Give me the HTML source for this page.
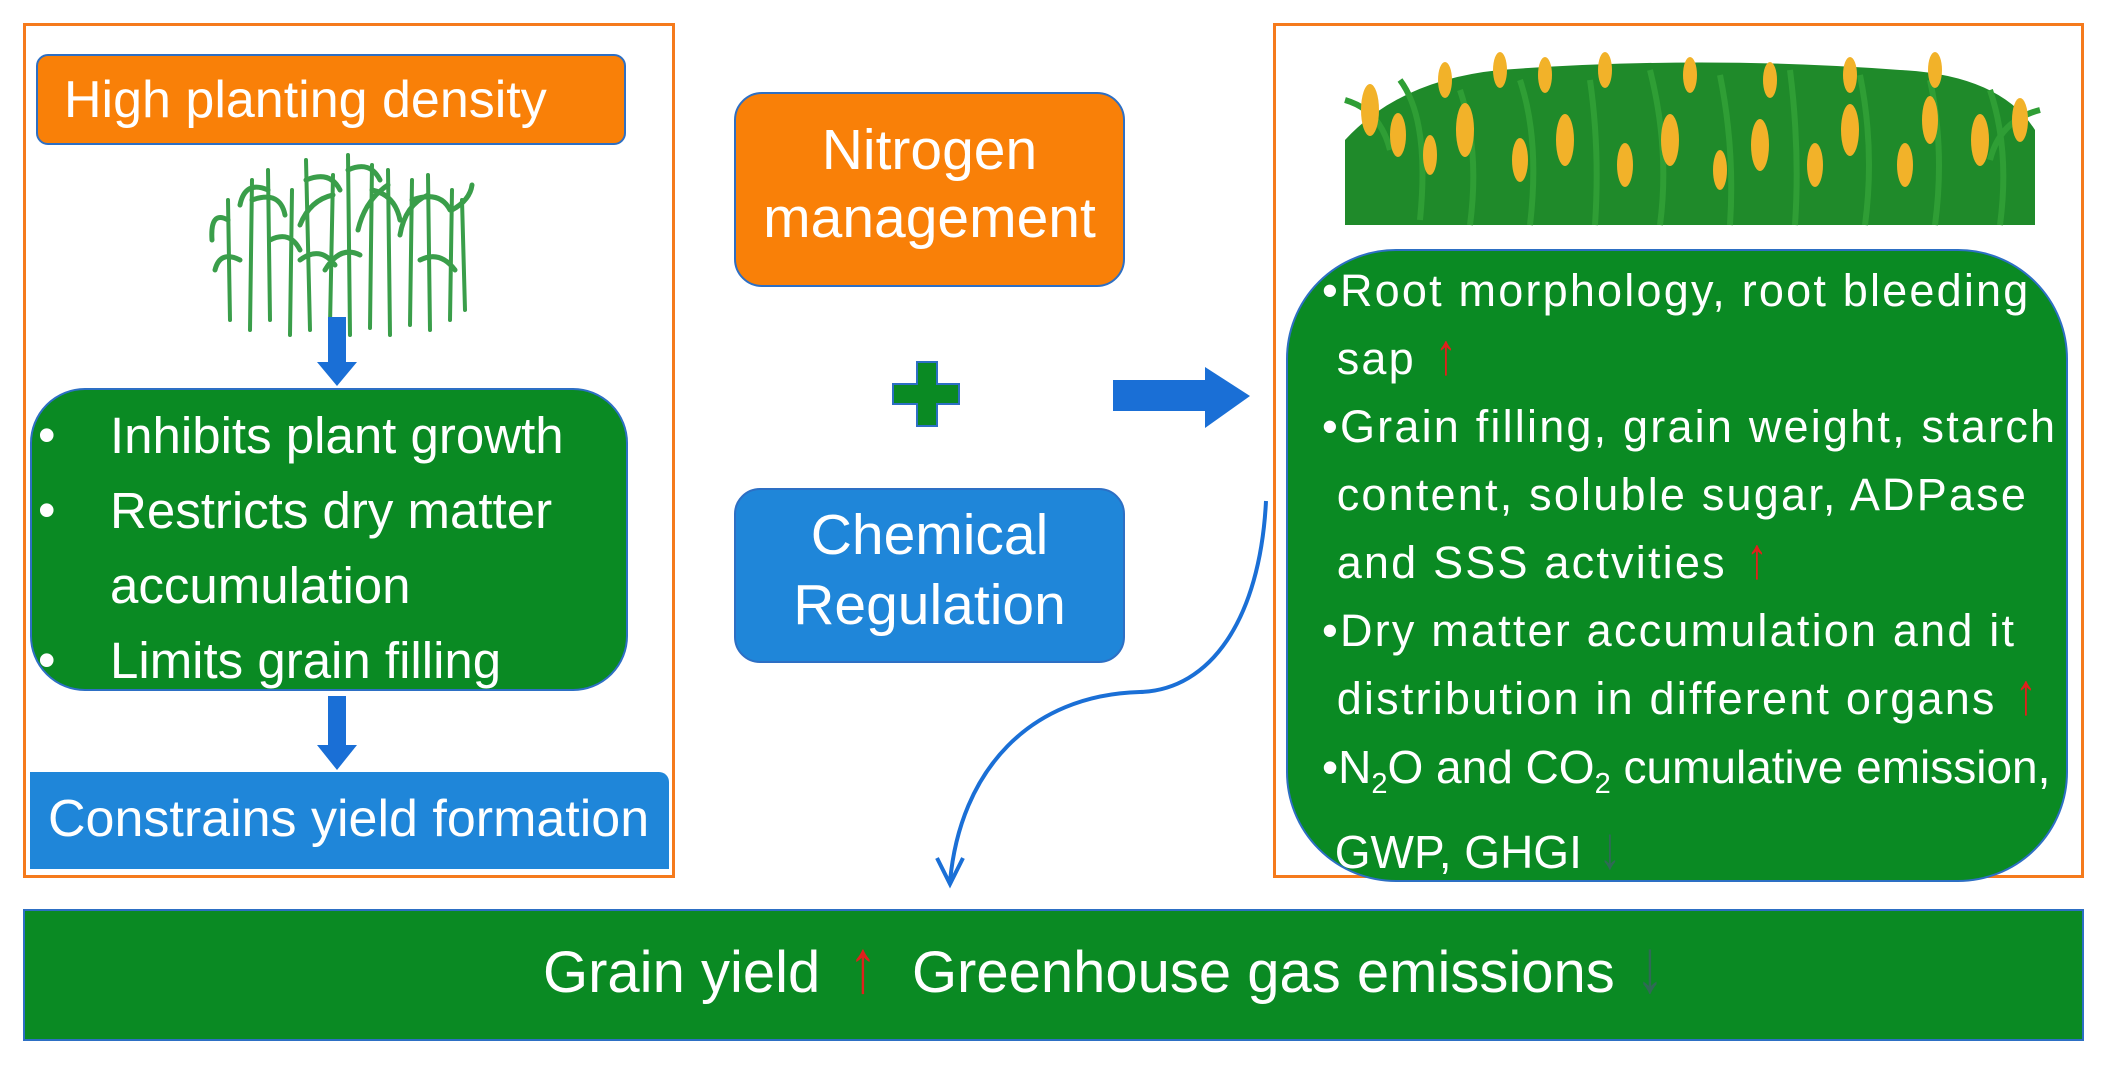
<!DOCTYPE html>
<html><head><meta charset="utf-8"><style>
html,body{margin:0;padding:0;background:#fff}
body{width:2112px;height:1074px;position:relative;overflow:hidden;font-family:"Liberation Sans",sans-serif;color:#fff}
.a{position:absolute;box-sizing:border-box}
.or{border:3px solid #f57a1c}
.t{position:absolute;white-space:nowrap}
.ar{font-size:1.3em;line-height:0.5;display:inline-block;transform:scaleX(0.75)}
</style></head><body>
<div class="a or" style="left:23px;top:23px;width:652px;height:855px"></div>
<div class="a or" style="left:1273px;top:23px;width:811px;height:855px"></div>

<div class="a" style="left:36px;top:54px;width:590px;height:91px;background:#f98008;border:2px solid #2d6fc4;border-radius:12px"></div>
<div class="t" style="left:64px;top:70px;font-size:52px">High planting density</div>

<svg class="a" style="left:0;top:0" width="2112" height="1074">
<g stroke="#3a9e4a" stroke-width="4" fill="none" stroke-linecap="round">
<path d="M230 320 L228 200 M250 330 L252 180 M270 320 L268 170 M290 335 L292 190 M310 330 L306 160 M330 325 L333 175 M350 335 L348 155 M370 328 L372 165 M390 335 L388 170 M410 325 L412 180 M430 330 L428 175 M450 320 L452 190 M465 310 L462 200"/>
<path d="M228 220 Q210 210 212 240 M252 200 Q280 190 285 215 M268 190 Q245 180 240 205 M306 180 Q330 170 340 190 M333 195 Q310 200 300 225 M348 170 Q370 160 380 180 M372 190 Q395 195 400 220 M388 185 Q365 200 358 230 M412 200 Q440 190 450 210 M428 195 Q405 205 400 235 M452 210 Q470 200 472 185 M240 260 Q220 250 215 270 M300 260 Q320 245 335 265 M360 255 Q340 245 325 270 M420 260 Q440 250 455 270 M270 240 Q290 230 300 250" stroke-width="5"/>
</g>
<g fill="#1a6fd6">
<rect x="328" y="317" width="18" height="50"/><polygon points="317,362 357,362 337,386"/>
<rect x="328" y="696" width="18" height="52"/><polygon points="317,745 357,745 337,770"/>
<rect x="1113" y="380" width="97" height="31"/><polygon points="1205,367 1250,396 1205,428"/>
</g>
<path d="M1266 501 C1260 620 1210 690 1140 692 C1030 695 960 770 950 882" stroke="#1a6fd6" stroke-width="4" fill="none"/>
<path d="M937 858 L950 884 L963 858" stroke="#1a6fd6" stroke-width="4" fill="none"/>
<g fill="#0a8a23" stroke="#2d6fc4" stroke-width="2">
<path d="M900 362 h24 v-22 h20 v22 h22 v20 h-22 v22 h-20 v-22 h-24z" transform="translate(-7,22)"/>
</g>
<g>
<path d="M1345 140 Q1400 80 1500 70 Q1700 55 1900 70 Q2000 75 2035 130 L2035 225 L1345 225Z" fill="#1f8a2a"/>
<g stroke="#2f9e35" stroke-width="6" fill="none">
<path d="M1345 100 Q1380 110 1390 150 M1400 80 Q1430 120 1420 220 M1460 90 Q1480 150 1470 225 M1520 80 Q1540 140 1530 225 M1590 80 Q1600 150 1595 225 M1650 70 Q1670 150 1660 225 M1720 75 Q1735 150 1730 225 M1790 70 Q1800 150 1795 225 M1860 75 Q1875 150 1865 225 M1930 80 Q1945 150 1935 225 M1990 90 Q2010 150 2000 225 M2040 110 Q2000 120 1990 160"/>
</g>
<g fill="#f2b229">
<ellipse cx="1370" cy="110" rx="9" ry="26"/><ellipse cx="1398" cy="135" rx="8" ry="22"/><ellipse cx="1430" cy="155" rx="7" ry="20"/><ellipse cx="1465" cy="130" rx="9" ry="27"/><ellipse cx="1445" cy="80" rx="7" ry="18"/><ellipse cx="1500" cy="70" rx="7" ry="18"/><ellipse cx="1520" cy="160" rx="8" ry="22"/><ellipse cx="1565" cy="140" rx="9" ry="26"/><ellipse cx="1545" cy="75" rx="7" ry="18"/><ellipse cx="1605" cy="70" rx="7" ry="18"/><ellipse cx="1625" cy="165" rx="8" ry="22"/><ellipse cx="1670" cy="140" rx="9" ry="26"/><ellipse cx="1690" cy="75" rx="7" ry="18"/><ellipse cx="1720" cy="170" rx="7" ry="20"/><ellipse cx="1760" cy="145" rx="9" ry="26"/><ellipse cx="1770" cy="80" rx="7" ry="18"/><ellipse cx="1815" cy="165" rx="8" ry="22"/><ellipse cx="1850" cy="130" rx="9" ry="26"/><ellipse cx="1850" cy="75" rx="7" ry="18"/><ellipse cx="1905" cy="165" rx="8" ry="22"/><ellipse cx="1930" cy="120" rx="8" ry="24"/><ellipse cx="1935" cy="70" rx="7" ry="18"/><ellipse cx="1980" cy="140" rx="9" ry="26"/><ellipse cx="2020" cy="120" rx="8" ry="22"/>
</g>
</g>
</svg>

<div class="a" style="left:30px;top:388px;width:598px;height:303px;background:#0a8a23;border:2px solid #2d6fc4;border-radius:55px"></div>
<div class="t" style="left:38px;top:398px;font-size:50px;line-height:75px">•<br>•<br><br>•</div>
<div class="t" style="left:110px;top:398px;font-size:51px;line-height:75px">Inhibits plant growth<br>Restricts dry matter<br>accumulation<br>Limits grain filling</div>

<div class="a" style="left:30px;top:772px;width:639px;height:97px;background:#1f86d9;border-radius:0 10px 0 0"></div>
<div class="t" style="left:48px;top:789px;font-size:52px">Constrains yield formation</div>

<div class="a" style="left:734px;top:92px;width:391px;height:195px;background:#f98008;border:2px solid #2d6fc4;border-radius:28px"></div>
<div class="t" style="left:734px;top:116px;width:391px;text-align:center;font-size:57px;line-height:68px">Nitrogen<br>management</div>
<div class="a" style="left:734px;top:488px;width:391px;height:175px;background:#1f86d9;border:2px solid #2d6fc4;border-radius:26px"></div>
<div class="t" style="left:734px;top:500px;width:391px;text-align:center;font-size:57px;line-height:70px">Chemical<br>Regulation</div>

<div class="a" style="left:1286px;top:249px;width:782px;height:633px;background:#0a8a23;border:2px solid #2d6fc4;border-radius:110px"></div>
<div class="t" style="left:1322px;top:257px;font-size:45px;line-height:68px;letter-spacing:2.2px">•Root morphology, root bleeding<br>&nbsp;sap <span style="color:#e0201c" class="ar">↑</span><br>•Grain filling, grain weight, starch<br>&nbsp;content, soluble sugar, ADPase<br>&nbsp;and SSS actvities <span style="color:#e0201c" class="ar">↑</span><br>•Dry matter accumulation and it<br>&nbsp;distribution in different organs <span style="color:#e0201c" class="ar">↑</span></div>
<div class="t" style="left:1322px;top:733px;font-size:46px;line-height:68px">•N<sub style="font-size:29px">2</sub>O and CO<sub style="font-size:29px">2</sub> cumulative emission,<br>&nbsp;GWP, GHGI <span style="color:#2f6a55" class="ar">↓</span></div>

<div class="a" style="left:23px;top:909px;width:2061px;height:132px;background:#0a8a23;border:2px solid #2d6fc4"></div>
<div class="t" style="left:543px;top:939px;font-size:58px">Grain yield<span style="color:#e0201c;margin:0 30px 0 24px" class="ar">↑</span>Greenhouse gas emissions<span style="color:#2f6a55;margin-left:16px" class="ar">↓</span></div>
</body></html>
